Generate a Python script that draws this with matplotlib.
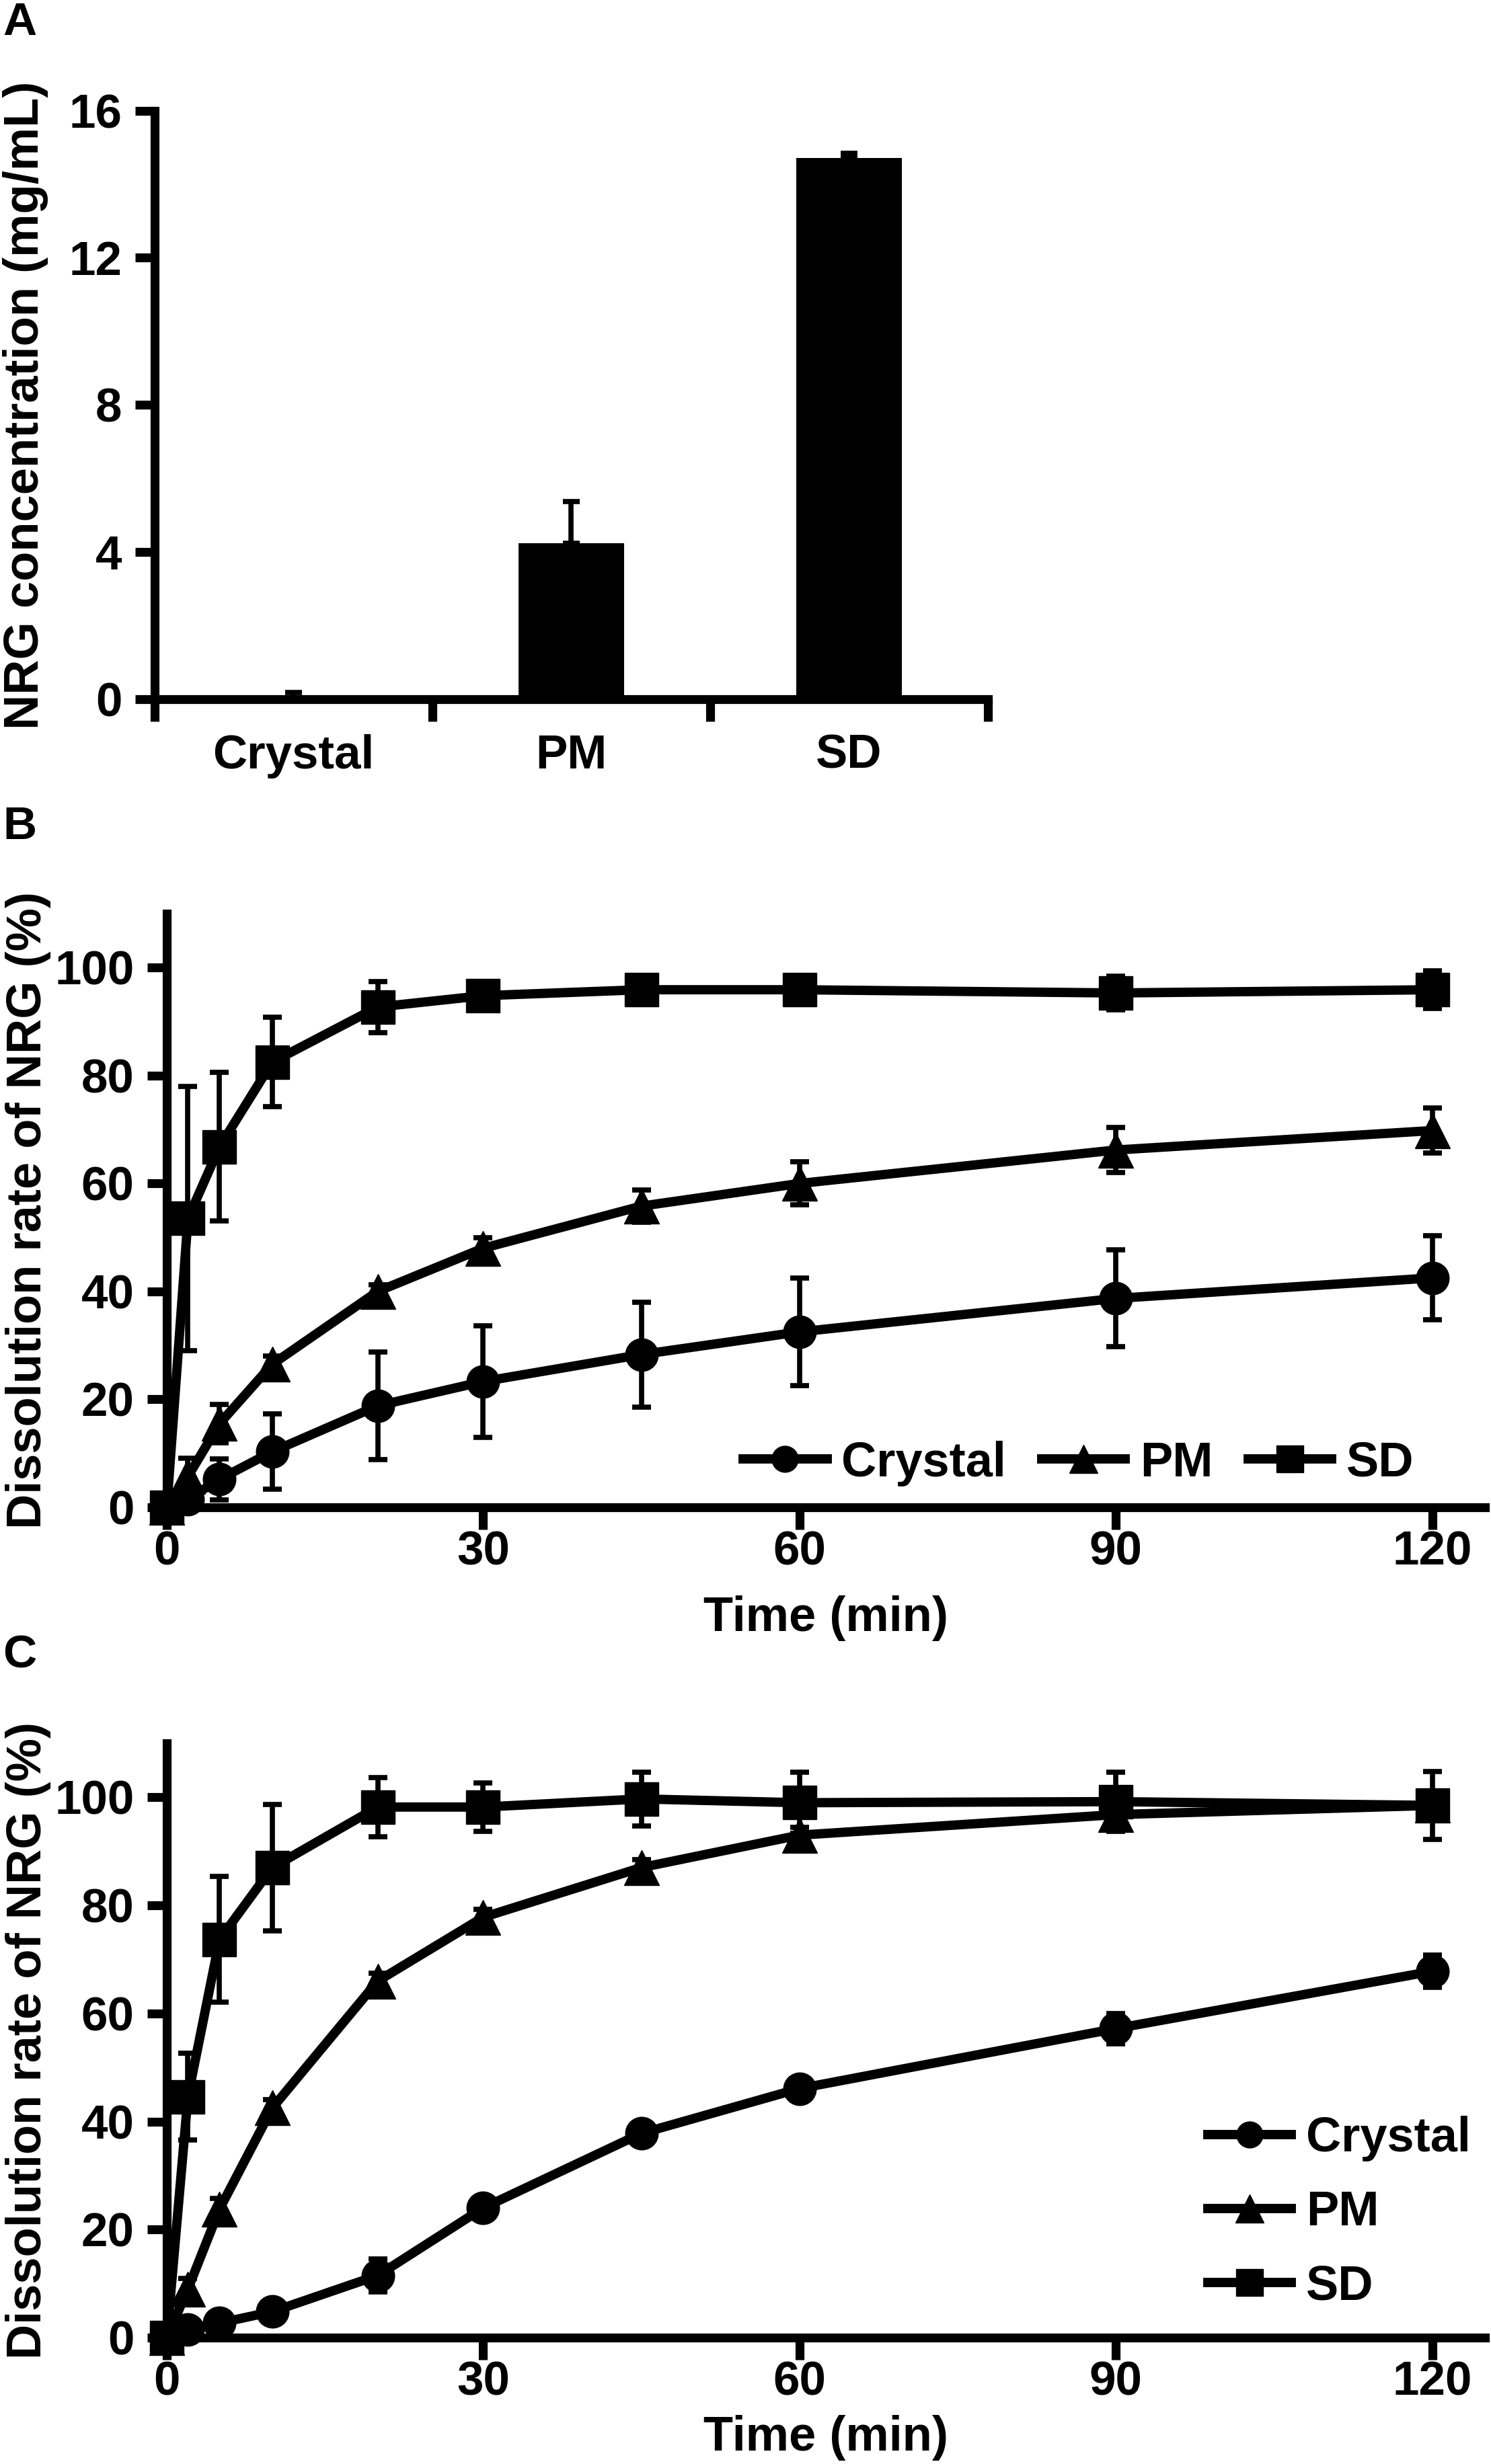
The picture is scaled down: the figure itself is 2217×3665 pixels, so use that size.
import numpy as np
import matplotlib
matplotlib.use('Agg')
import matplotlib.pyplot as plt

plt.rcParams['font.family'] = ['Liberation Sans', 'DejaVu Sans']
plt.rcParams['font.weight'] = 'bold'
plt.rcParams['axes.labelweight'] = 'bold'

# panel A: solubility
groups = ['Crystal', 'PM', 'SD']
conc = [0.04, 4.25, 14.72]
conc_sd = [0.14, 1.12, 0.12]

# panels B and C: dissolution profiles
time_min = [0, 2, 5, 10, 20, 30, 45, 60, 90, 120]

crystal_b = [0, 1.5, 5.2, 10.3, 18.8, 23.3, 28.3, 32.5, 38.7, 42.5]
crystal_b_sd = [0, 1.0, 3.8, 7.0, 10.0, 10.3, 9.7, 10.0, 9.0, 7.8]
pm_b = [0, 5.7, 15.5, 26.5, 40.0, 48.0, 55.8, 60.0, 66.2, 69.8]
pm_b_sd = [0, 3.4, 3.5, 1.5, 1.2, 2.0, 3.0, 4.0, 4.2, 4.2]
sd_b = [0, 53.5, 66.8, 82.5, 92.7, 94.8, 95.9, 95.9, 95.3, 95.9]
sd_b_sd = [0, 24.5, 13.8, 8.3, 4.7, 1.5, 1.5, 1.5, 3.1, 3.5]

crystal_c = [0, 1.5, 2.7, 4.8, 11.5, 24.0, 37.8, 46.1, 57.2, 67.8]
crystal_c_sd = [0, 0.5, 0.5, 0.8, 3.0, 1.5, 1.5, 1.5, 2.8, 3.0]
pm_c = [0, 9.0, 23.8, 42.5, 66.0, 77.8, 87.0, 93.0, 96.8, 98.5]
pm_c_sd = [0, 2.0, 2.0, 1.5, 1.5, 1.5, 1.5, 1.5, 2.0, 2.0]
sd_c = [0, 44.6, 73.7, 87.0, 98.2, 98.2, 99.7, 99.0, 99.2, 98.5]
sd_c_sd = [0, 8.0, 11.6, 11.7, 5.5, 4.5, 5.0, 5.7, 5.5, 6.3]

SPINE_LW = 9.5
TICK_FS = 51
LABEL_FS = 52


def style_axes(ax):
    for side in ('top', 'right'):
        ax.spines[side].set_visible(False)
    for side in ('left', 'bottom'):
        ax.spines[side].set_linewidth(SPINE_LW)
    ax.tick_params(direction='out', width=SPINE_LW, labelsize=TICK_FS)
    ax.tick_params(axis='y', length=21, pad=14)
    ax.tick_params(axis='x', length=24, pad=1)


fig = plt.figure(figsize=(22.17, 36.65), dpi=100)
axA = fig.add_axes([0.1037, 0.7162, 0.5589, 0.2389])
axB = fig.add_axes([0.1119, 0.3883, 0.8841, 0.2409])
axC = fig.add_axes([0.1119, 0.0513, 0.8841, 0.2412])

# --- A: bar chart
xpos = np.arange(len(groups))
axA.bar(xpos, conc, width=0.38, color='black')
axA.errorbar(xpos, conc, yerr=[np.zeros(len(conc)), conc_sd], fmt='none',
             ecolor='black', elinewidth=5.5, capsize=9, capthick=5.5)
style_axes(axA)
axA.set_xlim(-0.5, 2.5)
axA.set_ylim(0, 16)
axA.set_yticks([0, 4, 8, 12, 16])
axA.set_xticks([-0.5, 0.5, 1.5, 2.5])
axA.set_xticklabels([])
axA.set_xticks(xpos, minor=True)
axA.set_xticklabels(groups, minor=True)
axA.tick_params(axis='x', which='minor', length=0, pad=37, labelsize=TICK_FS)
axA.set_ylabel('NRG concentration (mg/mL)', fontsize=LABEL_FS)
axA.yaxis.set_label_coords(-0.1275, 0.5)


def dissolution(ax, data, legend_kw):
    markers = {'Crystal': ('o', 35), 'PM': ('^', 37), 'SD': ('s', 36)}
    for name, y, err in data:
        eb = ax.errorbar(time_min, y, yerr=err, fmt='none', ecolor='black',
                         elinewidth=5.5, capsize=10, capthick=5.5)
        for art in eb.lines[1] + eb.lines[2]:
            art.set_clip_on(False)
        m, ms = markers[name]
        ax.plot(time_min, y, marker=m, ms=ms, color='black', lw=10,
                label=name, clip_on=False)
    style_axes(ax)
    ax.set_xlim(0, 125)
    ax.set_ylim(0, 110)
    ax.set_xticks([0, 30, 60, 90, 120])
    ax.set_yticks([0, 20, 40, 60, 80, 100])
    ax.set_xlabel('Time (min)', fontsize=LABEL_FS)
    ax.set_ylabel('Dissolution rate of NRG (%)', fontsize=LABEL_FS)
    ax.yaxis.set_label_coords(-0.0878, 0.5)
    ax.legend(frameon=False, fontsize=52, markerscale=0.8, borderpad=0,
              borderaxespad=0, handletextpad=0.3, handlelength=1.72,
              **legend_kw)


dissolution(axB, [('Crystal', crystal_b, crystal_b_sd),
                  ('PM', pm_b, pm_b_sd),
                  ('SD', sd_b, sd_b_sd)],
            dict(loc='center right', bbox_to_anchor=(0.946, 0.074), ncol=3,
                 columnspacing=0.73))
axB.xaxis.set_label_coords(0.5, -0.149)

dissolution(axC, [('Crystal', crystal_c, crystal_c_sd),
                  ('PM', pm_c, pm_c_sd),
                  ('SD', sd_c, sd_c_sd)],
            dict(loc='center right', bbox_to_anchor=(0.989, 0.210), ncol=1,
                 labelspacing=0.58))
axC.xaxis.set_label_coords(0.5, -0.130)

fig.text(0.002, 0.9995, 'A', fontsize=50, va='top', ha='left')
fig.text(0.002, 0.6731, 'B', fontsize=50, va='top', ha='left')
fig.text(0.002, 0.3367, 'C', fontsize=50, va='top', ha='left')

fig.savefig('out.png', dpi=100)
